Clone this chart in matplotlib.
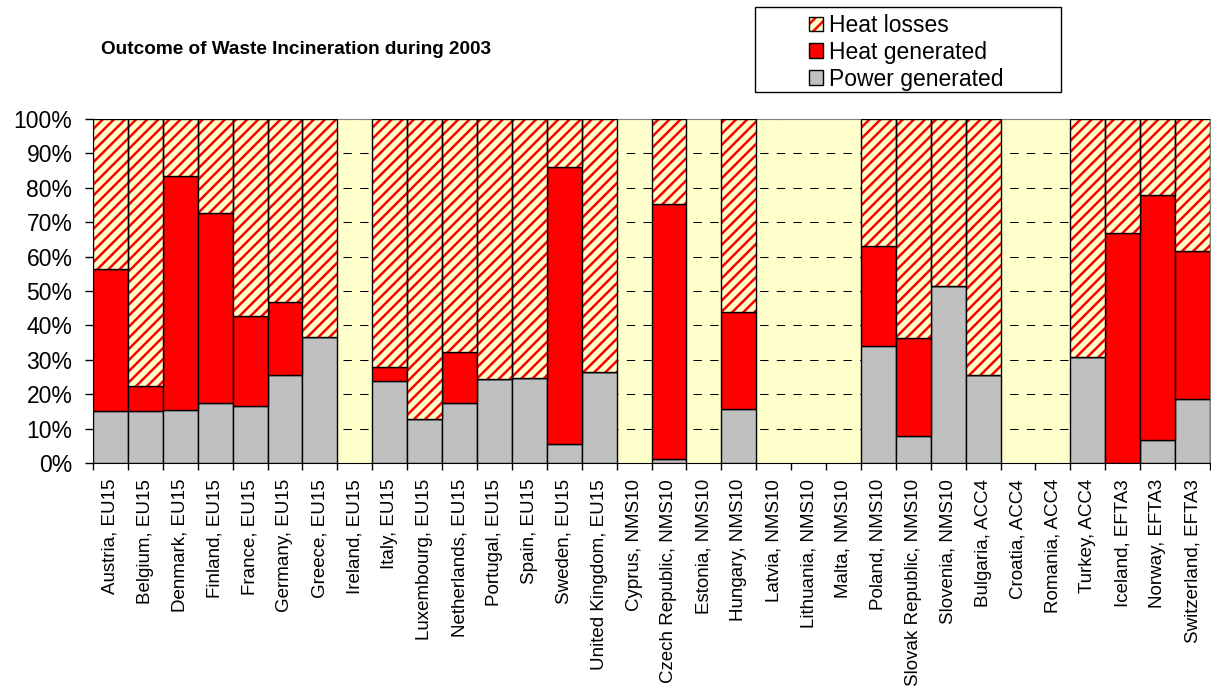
# -*- coding: utf-8 -*-

import numpy as np
import matplotlib
matplotlib.use('Agg')
import matplotlib.pyplot as plt
from matplotlib.patches import Patch, Rectangle
from matplotlib.legend_handler import HandlerTuple

countries = ['Austria', 'Belgium', 'Denmark', 'Finland', 'France', 'Germany',
             'Greece', 'Ireland', 'Italy', 'Luxembourg', 'Netherlands',
             'Portugal', 'Spain', 'Sweden', 'United Kingdom', 'Cyprus',
             'Czech Republic', 'Estonia', 'Hungary', 'Latvia', 'Lithuania',
             'Malta', 'Poland', 'Slovak Republic', 'Slovenia', 'Bulgaria',
             'Croatia', 'Romania', 'Turkey', 'Iceland', 'Norway', 'Switzerland']
groups = ['EU15'] * 15 + ['NMS10'] * 10 + ['ACC4'] * 4 + ['EFTA3'] * 3

# shares in percent, nan = no incineration reported
nan = np.nan
power_generated = [15.0, 15.0, 15.5, 17.5, 16.5, 25.5, 36.6, nan, 23.9, 12.7,
                   17.5, 24.4, 24.7, 5.6, 26.5, nan, 1.3, nan, 15.8, nan,
                   nan, nan, 34.0, 7.8, 51.4, 25.5, nan, nan, 30.8, 0.0,
                   6.8, 18.6]
heat_generated = [41.3, 7.3, 67.9, 55.2, 26.2, 21.3, 0.0, nan, 4.0, 0.0,
                  14.8, 0.0, 0.0, 80.5, 0.0, nan, 74.0, nan, 28.1, nan,
                  nan, nan, 29.2, 28.6, 0.0, 0.0, nan, nan, 0.0, 66.9,
                  71.2, 43.1]

GRAY = '#C0C0C0'
RED = '#FF0000'
PALE = '#FFFFCC'
HATCH = '///'

plt.rcParams['font.family'] = ['Liberation Sans', 'DejaVu Sans']
plt.rcParams['hatch.linewidth'] = 1.8
plt.rcParams['hatch.color'] = RED


def losses_key():
    '''hatched patch plus a black outline on top of it'''
    return (Patch(facecolor=PALE, edgecolor=RED, hatch=HATCH, linewidth=0),
            Patch(fill=False, edgecolor='black', linewidth=1.0))


def main():
    power = np.array(power_generated)
    heat = np.array(heat_generated)
    losses = 100.0 - power - heat
    labels = ['%s, %s' % (c, g) for c, g in zip(countries, groups)]

    idx = np.arange(len(countries))
    ok = ~np.isnan(power)
    x = idx[ok]

    fig = plt.figure(figsize=(12.11, 6.89), dpi=100)
    ax = fig.add_axes([93 / 1211, 1 - 463 / 689, 1117 / 1211, 344 / 689])
    ax.set_facecolor(PALE)

    ax.bar(x, power[ok], width=1.0, color=GRAY, edgecolor='black',
           linewidth=1.0, zorder=3)
    ax.bar(x, heat[ok], width=1.0, bottom=power[ok], color=RED,
           edgecolor='black', linewidth=1.0, zorder=3)
    # hatched part, outline drawn separately so the stripes stay red
    ax.bar(x, losses[ok], width=1.0, bottom=(power + heat)[ok], color=PALE,
           edgecolor=RED, hatch=HATCH, linewidth=0, zorder=3)
    ax.bar(x, losses[ok], width=1.0, bottom=(power + heat)[ok], fill=False,
           edgecolor='black', linewidth=1.0, zorder=4)

    ax.set_xlim(-0.5, len(countries) - 0.5)
    ax.set_ylim(0, 100)

    ax.set_yticks(np.arange(0, 101, 10))
    ax.set_yticklabels(['%d%%' % v for v in range(0, 101, 10)], fontsize=16.5)
    ax.tick_params(axis='y', direction='out', length=5.8, width=1.0, pad=9)

    ax.set_xticks(np.arange(-0.5, len(countries), 1.0))
    ax.set_xticklabels([])
    ax.set_xticks(idx, minor=True)
    ax.set_xticklabels(labels, minor=True, rotation=90, fontsize=13.5,
                       va='top', ha='center')
    ax.tick_params(axis='x', which='major', direction='out', length=5,
                   width=1.0)
    ax.tick_params(axis='x', which='minor', length=0, pad=11.5)

    ax.set_axisbelow(True)
    ax.yaxis.grid(True, color='black', linewidth=0.75,
                  linestyle=(0, (8, 8)), zorder=1)

    ax.spines['left'].set_color('black')
    ax.spines['bottom'].set_color('black')
    ax.spines['top'].set_color('#808080')
    ax.spines['right'].set_color('#808080')

    fig.text(296 / 1211, 1 - 50 / 689,
             'Outcome of Waste Incineration during 2003',
             ha='center', va='center', fontsize=13.7, fontweight='bold')

    handles = [losses_key(),
               Patch(facecolor=RED, edgecolor='black', linewidth=1.0),
               Patch(facecolor=GRAY, edgecolor='black', linewidth=1.0)]
    fig.legend(handles, ['Heat losses', 'Heat generated', 'Power generated'],
               handler_map={tuple: HandlerTuple(ndivide=1, pad=0)},
               loc='upper left', bbox_to_anchor=(809 / 1211, 1 - 14 / 689),
               frameon=False, fontsize=16.5, borderpad=0, borderaxespad=0,
               handlelength=0.62, handleheight=0.62, handletextpad=0.26,
               labelspacing=0.17)
    fig.add_artist(Rectangle((755 / 1211, 1 - 92 / 689), 306 / 1211,
                             85 / 689, transform=fig.transFigure,
                             fill=False, edgecolor='black', linewidth=1.0))

    fig.savefig('out.png', dpi=100)


if __name__ == '__main__':
    main()
